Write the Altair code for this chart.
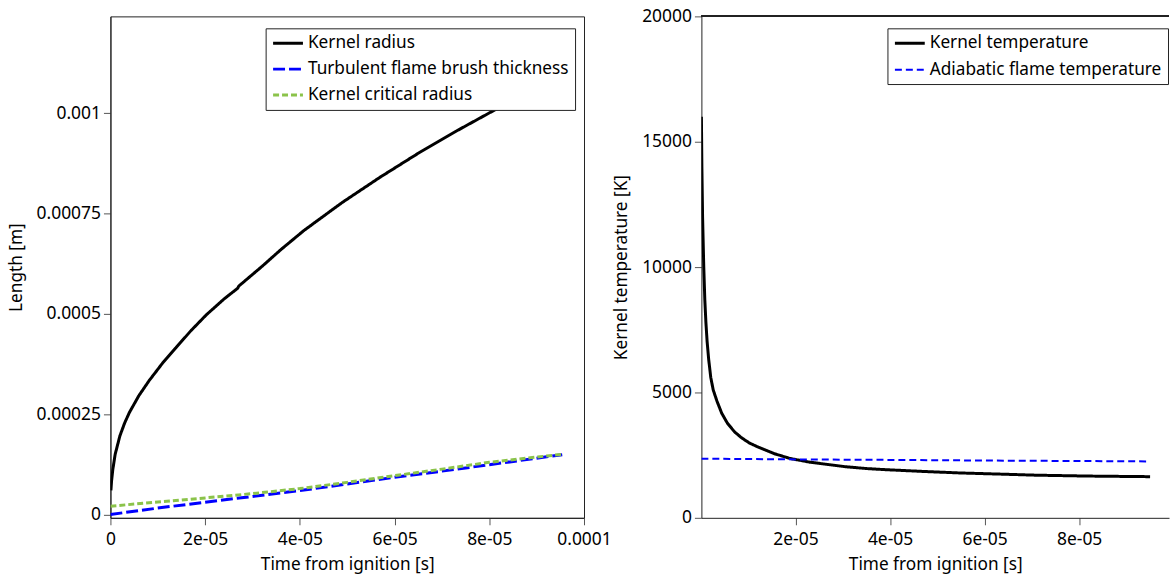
import altair as alt
import pandas as pd

# ---------------- Left panel data ----------------
radius_t = [1e-7, 2.5e-7, 5e-7, 1e-6, 2e-6, 3e-6, 4e-6, 6e-6, 8.2e-6, 1.1e-5, 1.38e-5, 1.7e-5,
            2.03e-5, 2.4e-5, 2.69e-5, 2.71e-5, 3.2e-5, 3.6e-5, 4.08e-5, 4.89e-5, 5.69e-5, 6.5e-5,
            7.3e-5, 8.07e-5, 8.8e-5, 9.54e-5]
radius_r = [0.00006, 0.000085, 0.000112, 0.00015, 0.000196, 0.000228, 0.000254, 0.000296, 0.000334,
            0.000377, 0.000415, 0.000458, 0.000498, 0.000537, 0.000564, 0.000569, 0.000618, 0.00066,
            0.000707, 0.000777, 0.00084, 0.0009, 0.000955, 0.001005, 0.00105, 0.001095]

brush_t = [0.0, 1e-5, 2e-5, 3e-5, 4e-5, 5e-5, 6e-5, 7e-5, 8e-5, 9.54e-5]
brush_r = [0.0, 0.000016, 0.0000306, 0.000045, 0.0000595, 0.000076, 0.0000926, 0.000108, 0.000124, 0.000149]

crit_t = [0.0, 1e-5, 2e-5, 3e-5, 4e-5, 5e-5, 6e-5, 7e-5, 8e-5, 9.54e-5]
crit_r = [0.0000207, 0.000031, 0.0000413, 0.000052, 0.0000645, 0.00008, 0.0000967, 0.000113, 0.00013, 0.00015]

left_series = ["Kernel radius", "Turbulent flame brush thickness", "Kernel critical radius"]
left_colors = ["#000000", "#0000ff", "#8bc34a"]
left_dashes = [[1, 0], [12, 4], [6, 3]]

# ---------------- Right panel data ----------------
temp_t = [1e-7, 2e-7, 3.5e-7, 6e-7, 8.2e-7, 1.05e-6, 1.3e-6, 1.65e-6, 2.08e-6, 2.6e-6, 3.4e-6,
          4.4e-6, 5.6e-6, 7.1e-6, 8.6e-6, 1.02e-5, 1.18e-5, 1.55e-5, 1.88e-5, 2.3e-5, 3.05e-5,
          3.5e-5, 3.91e-5, 4.7e-5, 5.47e-5, 6.3e-5, 7.1e-5, 8.2e-5, 9.5e-5]
temp_k = [16000, 14000, 12000, 10000, 8700, 7800, 7050, 6300, 5600, 5100, 4650,
          4170, 3775, 3430, 3190, 2990, 2846, 2560, 2370, 2220, 2040,
          1965, 1920, 1850, 1790, 1745, 1700, 1665, 1641]

adiab_t = [1e-7, 2e-5, 4e-5, 6e-5, 8e-5, 9.5e-5]
adiab_k = [2360, 2330, 2310, 2285, 2265, 2250]

right_series = ["Kernel temperature", "Adiabatic flame temperature"]
right_colors = ["#000000", "#0000ff"]
right_dashes = [[1, 0], [7, 4]]
right_widths = [3, 2]

FONT = "Noto Sans"

left_df = pd.concat([
    pd.DataFrame({"t": radius_t, "v": radius_r, "series": left_series[0]}),
    pd.DataFrame({"t": brush_t, "v": brush_r, "series": left_series[1]}),
    pd.DataFrame({"t": crit_t, "v": crit_r, "series": left_series[2]}),
], ignore_index=True)

right_df = pd.concat([
    pd.DataFrame({"t": temp_t, "v": temp_k, "series": right_series[0]}),
    pd.DataFrame({"t": adiab_t, "v": adiab_k, "series": right_series[1]}),
], ignore_index=True)

x_label_expr = ("datum.value < 1e-9 ? '0' : (datum.value > 9.9e-5 ? '0.0001' : "
                "round(datum.value * 1e5) + 'e-05')")


def legend(x, y):
    return alt.Legend(
        title=None, orient="none", legendX=x, legendY=y,
        fillColor="white", strokeColor="#222222", padding=6,
        labelFont=FONT, labelFontSize=17.3, labelColor="black", labelLimit=400,
        symbolType="M-2,0H2", symbolSize=225, symbolStrokeWidth=3, symbolOffset=7.5,
        rowPadding=8, labelOffset=11,
    )


left = alt.Chart(left_df).mark_line(strokeWidth=3, clip=True).encode(
    x=alt.X("t:Q", title="Time from ignition [s]",
            scale=alt.Scale(domain=[0, 0.0001], nice=False, zero=False),
            axis=alt.Axis(values=[0, 2e-5, 4e-5, 6e-5, 8e-5, 1e-4], labelExpr=x_label_expr)),
    y=alt.Y("v:Q", title="Length [m]",
            scale=alt.Scale(domain=[-0.0000083, 0.001241], nice=False, zero=False),
            axis=alt.Axis(values=[0, 0.00025, 0.0005, 0.00075, 0.001], format="~g")),
    color=alt.Color("series:N", scale=alt.Scale(domain=left_series, range=left_colors),
                    legend=legend(156, 12)),
    strokeDash=alt.StrokeDash("series:N", scale=alt.Scale(domain=left_series, range=left_dashes),
                              legend=legend(156, 12)),
    order=alt.Order("t:Q"),
).properties(width=476, height=504)

right_lines = alt.Chart(right_df).mark_line(clip=True).encode(
    x=alt.X("t:Q", title="Time from ignition [s]",
            scale=alt.Scale(domain=[1e-7, 9.9e-5], nice=False, zero=False),
            axis=alt.Axis(values=[2e-5, 4e-5, 6e-5, 8e-5], labelExpr=x_label_expr)),
    y=alt.Y("v:Q", title="Kernel temperature [K]",
            scale=alt.Scale(domain=[0, 20000], nice=False, zero=False),
            axis=alt.Axis(values=[0, 5000, 10000, 15000, 20000], format="d")),
    color=alt.Color("series:N", scale=alt.Scale(domain=right_series, range=right_colors),
                    legend=legend(187, 12)),
    strokeDash=alt.StrokeDash("series:N", scale=alt.Scale(domain=right_series, range=right_dashes),
                              legend=legend(187, 12)),
    strokeWidth=alt.StrokeWidth("series:N", scale=alt.Scale(domain=right_series, range=right_widths),
                                legend=None),
    order=alt.Order("t:Q"),
)

right_top = alt.Chart(right_df).mark_rule(color="#222222", strokeWidth=1).encode(
    x=alt.value(0), x2=alt.value(470), y=alt.value(0)
)

right = alt.layer(right_top, right_lines).properties(
    width=470, height=504, view=alt.ViewBackground(stroke="transparent")
)

chart = alt.hconcat(left, right, spacing=118, bounds="flush").resolve_scale(
    color="independent", strokeDash="independent", strokeWidth="independent"
).configure(
    font=FONT,
    padding={"left": 6, "top": 5, "right": 0, "bottom": 0},
).configure_view(
    stroke="#222222", strokeWidth=1,
).configure_axis(
    grid=False, domainColor="#222222", tickColor="#555555", tickSize=7,
    labelFont=FONT, labelFontSize=17.5, labelColor="black", labelPadding=3,
    titleFont=FONT, titleFontSize=17.3, titleFontWeight="normal", titleColor="black",
    labelFlush=False,
).configure_axisY(titlePadding=11).configure_axisX(titlePadding=7, labelPadding=6)

chart.save("out.html", embed_options={"renderer": "svg", "actions": False})
